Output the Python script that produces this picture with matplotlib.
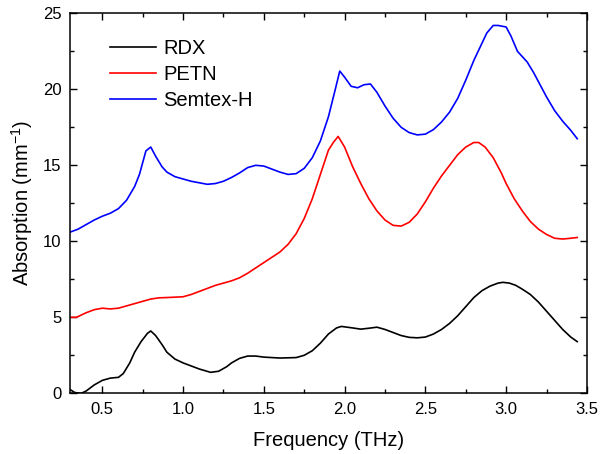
import matplotlib
matplotlib.use("Agg")
import matplotlib.pyplot as plt
from matplotlib.ticker import MultipleLocator

plt.rcParams['font.family'] = ['Liberation Sans', 'DejaVu Sans']
plt.rcParams['mathtext.fontset'] = 'custom'
plt.rcParams['mathtext.rm'] = 'Liberation Sans'
plt.rcParams['mathtext.it'] = 'Liberation Sans:italic'
plt.rcParams['mathtext.bf'] = 'Liberation Sans:bold'

rdx_x = [0.30, 0.33, 0.37, 0.40, 0.45, 0.50, 0.55, 0.60, 0.63, 0.67, 0.70, 0.74, 0.78, 0.80, 0.83,
         0.87, 0.90, 0.95, 1.00, 1.05, 1.10, 1.17, 1.22, 1.27, 1.30, 1.35, 1.40, 1.45, 1.50, 1.60,
         1.70, 1.75, 1.80, 1.85, 1.90, 1.95, 1.98, 2.05, 2.10, 2.15, 2.20, 2.25, 2.30, 2.35, 2.40,
         2.45, 2.50, 2.55, 2.60, 2.65, 2.70, 2.75, 2.80, 2.85, 2.90, 2.95, 2.98, 3.02, 3.06, 3.10,
         3.15, 3.20, 3.25, 3.30, 3.35, 3.40, 3.44]
rdx_y = [0.25, 0.05, 0.00, 0.15, 0.55, 0.85, 1.00, 1.05, 1.30, 2.00, 2.70, 3.40, 3.95, 4.10, 3.80,
         3.20, 2.70, 2.25, 2.00, 1.80, 1.60, 1.38, 1.45, 1.75, 2.00, 2.30, 2.45, 2.45, 2.38, 2.32,
         2.35, 2.50, 2.80, 3.30, 3.90, 4.30, 4.40, 4.30, 4.22, 4.28, 4.35, 4.20, 4.00, 3.80, 3.68,
         3.65, 3.70, 3.90, 4.20, 4.60, 5.10, 5.70, 6.30, 6.75, 7.05, 7.25, 7.30, 7.25, 7.10, 6.85,
         6.50, 6.00, 5.40, 4.80, 4.20, 3.70, 3.40]

petn_x = [0.30, 0.34, 0.40, 0.45, 0.50, 0.55, 0.60, 0.65, 0.70, 0.75, 0.80, 0.85, 0.90, 1.00, 1.05,
          1.10, 1.20, 1.30, 1.35, 1.40, 1.50, 1.60, 1.65, 1.70, 1.75, 1.80, 1.85, 1.90, 1.93, 1.96,
          2.00, 2.05, 2.10, 2.15, 2.20, 2.25, 2.30, 2.35, 2.40, 2.45, 2.50, 2.55, 2.60, 2.65, 2.70,
          2.75, 2.80, 2.83, 2.87, 2.92, 2.97, 3.00, 3.05, 3.10, 3.15, 3.20, 3.25, 3.30, 3.35, 3.40,
          3.44]
petn_y = [5.00, 5.00, 5.30, 5.50, 5.60, 5.55, 5.60, 5.75, 5.90, 6.05, 6.20, 6.28, 6.30, 6.35, 6.50,
          6.70, 7.10, 7.40, 7.60, 7.90, 8.60, 9.30, 9.80, 10.50, 11.50, 12.80, 14.40, 16.00, 16.50, 16.90,
          16.20, 14.90, 13.80, 12.80, 12.00, 11.40, 11.05, 11.00, 11.25, 11.80, 12.60, 13.50, 14.30, 15.00, 15.70,
          16.20, 16.50, 16.50, 16.20, 15.50, 14.50, 13.80, 12.80, 12.00, 11.30, 10.80, 10.45, 10.20, 10.15, 10.20,
          10.25]

semtex_x = [0.30, 0.35, 0.40, 0.45, 0.50, 0.55, 0.60, 0.65, 0.70, 0.73, 0.77, 0.80, 0.83, 0.87, 0.90,
            0.95, 1.00, 1.05, 1.10, 1.15, 1.20, 1.25, 1.30, 1.35, 1.40, 1.45, 1.50, 1.55, 1.60, 1.65,
            1.70, 1.75, 1.80, 1.85, 1.90, 1.94, 1.97, 2.00, 2.04, 2.08, 2.12, 2.16, 2.20, 2.25, 2.30,
            2.35, 2.40, 2.45, 2.50, 2.55, 2.60, 2.65, 2.70, 2.75, 2.80, 2.84, 2.88, 2.92, 2.95, 3.00,
            3.03, 3.07, 3.13, 3.17, 3.20, 3.25, 3.30, 3.35, 3.40, 3.44]
semtex_y = [10.60, 10.80, 11.10, 11.40, 11.65, 11.85, 12.15, 12.70, 13.60, 14.40, 15.95, 16.20, 15.60, 14.90, 14.55,
            14.25, 14.10, 13.95, 13.85, 13.75, 13.80, 13.95, 14.20, 14.50, 14.85, 15.00, 14.95, 14.75, 14.55, 14.40,
            14.45, 14.80, 15.50, 16.60, 18.20, 19.90, 21.20, 20.80, 20.20, 20.10, 20.30, 20.35, 19.80, 18.90, 18.10,
            17.50, 17.15, 17.00, 17.05, 17.35, 17.85, 18.50, 19.40, 20.60, 21.90, 22.80, 23.70, 24.20, 24.20, 24.10,
            23.50, 22.50, 21.80, 21.10, 20.50, 19.50, 18.60, 17.90, 17.30, 16.75]

labels = ['RDX', 'PETN', 'Semtex-H']
colors = ['black', '#ff0000', '#0000ff']
xtick_vals = [0.5, 1.0, 1.5, 2.0, 2.5, 3.0, 3.5]
xtick_labels = ['0.5', '1.0', '1.5', '2.0', '2.5', '3.0', '3.5']

fig = plt.figure(figsize=(6.06, 4.54), dpi=100)
ax = fig.add_axes([0.1155, 0.1337, 0.853, 0.837])

ax.plot(rdx_x, rdx_y, color=colors[0], lw=1.2, label=labels[0])
ax.plot(petn_x, petn_y, color=colors[1], lw=1.2, label=labels[1])
ax.plot(semtex_x, semtex_y, color=colors[2], lw=1.2, label=labels[2])

ax.set_xlim(0.3, 3.5)
ax.set_ylim(0, 25)
ax.set_xticks(xtick_vals)
ax.set_xticklabels(xtick_labels)
ax.xaxis.set_minor_locator(MultipleLocator(0.25))
ax.yaxis.set_major_locator(MultipleLocator(5))
ax.yaxis.set_minor_locator(MultipleLocator(2.5))
ax.tick_params(which='both', direction='in', top=True, right=True, labelsize=12, width=1)
ax.tick_params(which='major', length=5, pad=6)
ax.tick_params(which='minor', length=3)
for s in ax.spines.values():
    s.set_linewidth(1.1)

ax.set_xlabel('Frequency (THz)', fontsize=14.5, labelpad=10)
ax.set_ylabel('Absorption (mm$^{-1}$)', fontsize=14.5, labelpad=6)

leg = ax.legend(loc='upper left', frameon=False, fontsize=14.5, handlelength=2.3,
                bbox_to_anchor=(0.05, 0.97), labelspacing=0.35, handletextpad=0.35,
                borderaxespad=0.3)

fig.savefig('out.png', dpi=100)
